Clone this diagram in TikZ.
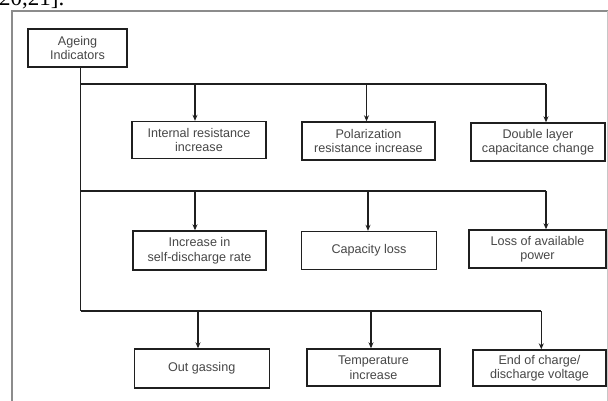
\documentclass[tikz,border=0pt]{standalone}
\usepackage{fontspec}
\setmainfont{Liberation Sans}
\newfontfamily\seriffont{Liberation Serif}
\usetikzlibrary{arrows.meta}
\definecolor{ink}{gray}{0.12}
\definecolor{txt}{gray}{0.28}
\definecolor{framec}{gray}{0.55}
\begin{document}
\begin{tikzpicture}[x=1pt,y=-1pt,
  box/.style={draw=ink,line width=1.4pt,fill=white,align=center,inner sep=0pt,
    text=txt,font=\fontsize{12.6}{14.5}\selectfont},
  bus/.style={draw=ink,line width=1.4pt},
  arr/.style={draw=ink,line width=1.4pt,-{Stealth[length=6pt,width=5pt]}}]
\useasboundingbox (0,0) rectangle (608,401);
% cut-off caption fragment
\node[anchor=base west,inner sep=0pt,font=\seriffont\fontsize{23}{23}\selectfont] (frag) at (-1,6) {20,21].};
% outer frame
\draw[framec,line width=1.2pt] (12,401.5) -- (12,11) -- (608.5,11);
\draw[framec!50,line width=0.8pt] (607,11) -- (607,401.5);
% boxes
\node[box,minimum width=99pt,minimum height=38pt] (age) at (77.5,48) {Ageing\\Indicators};
\node[box,minimum width=134pt,minimum height=37pt] (a1) at (199,140) {Internal resistance\\increase};
\node[box,minimum width=133pt,minimum height=38pt] (a2) at (368.5,141) {Polarization\\resistance increase};
\node[box,minimum width=134pt,minimum height=38pt] (a3) at (538,142) {Double layer\\capacitance change};
\node[box,minimum width=133pt,minimum height=39pt] (b1) at (199.5,250.5) {Increase in\\self-discharge rate};
\node[box,minimum width=135pt,minimum height=38pt] (b2) at (369,250.5) {Capacity loss};
\node[box,minimum width=137pt,minimum height=38pt] (b3) at (537.5,249) {Loss of available\\power};
\node[box,minimum width=135pt,minimum height=39pt] (c1) at (201.7,368.5) {Out gassing};
\node[box,minimum width=133pt,minimum height=37pt] (c2) at (373.5,367.5) {Temperature\\increase};
\node[box,minimum width=133pt,minimum height=36pt] (c3) at (539.5,368) {End of charge/\\discharge voltage};
% bus coordinates
\coordinate (t0) at (80.7,84);
\coordinate (p1) at (195,84);
\coordinate (p2) at (366.5,84);
\coordinate (p3) at (546,84);
\coordinate (u0) at (80.7,191);
\coordinate (q1) at (195,191);
\coordinate (q2) at (368,191);
\coordinate (q3) at (546,191);
\coordinate (v0) at (80.7,311);
\coordinate (r1) at (198,311);
\coordinate (r2) at (371,311);
\coordinate (r3) at (541.3,311);
% trunk and buses
\draw[bus] (age.south -| t0) -- (v0);
\draw[bus] (t0) -- (p3);
\draw[bus] (u0) -- (q3);
\draw[bus] (v0) -- (r3);
% arrows
\draw[arr] (p1) -- (p1 |- a1.north);
\draw[arr] (p2) -- (p2 |- a2.north);
\draw[arr] (p3) -- (p3 |- a3.north);
\draw[arr] (q1) -- (q1 |- b1.north);
\draw[arr] (q2) -- (q2 |- b2.north);
\draw[arr] (q3) -- (q3 |- b3.north);
\draw[arr] (r1) -- (r1 |- c1.north);
\draw[arr] (r2) -- (r2 |- c2.north);
\draw[arr] (r3) -- (r3 |- c3.north);
\end{tikzpicture}
\end{document}
